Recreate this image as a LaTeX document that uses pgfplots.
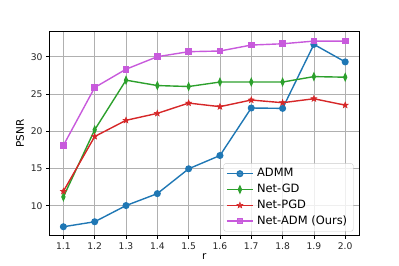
\documentclass[border=0pt]{standalone}
\usepackage{pgfplots}
\pgfplotsset{compat=1.18}
\usepackage{fontspec}
\setmainfont{DejaVu Sans}
\usetikzlibrary{plotmarks}
\definecolor{cblue}{HTML}{1F77B4}
\definecolor{cgreen}{HTML}{2CA02C}
\definecolor{cred}{HTML}{D62728}
\definecolor{cpurp}{RGB}{200,90,220}
\definecolor{cgrid}{HTML}{B0B0B0}
\pgfdeclareplotmark{fstar}{%
 \pgfpathmoveto{\pgfpointpolar{90}{\pgfplotmarksize}}%
 \pgfpathlineto{\pgfpointpolar{126}{0.42\pgfplotmarksize}}%
 \pgfpathlineto{\pgfpointpolar{162}{\pgfplotmarksize}}%
 \pgfpathlineto{\pgfpointpolar{198}{0.42\pgfplotmarksize}}%
 \pgfpathlineto{\pgfpointpolar{234}{\pgfplotmarksize}}%
 \pgfpathlineto{\pgfpointpolar{270}{0.42\pgfplotmarksize}}%
 \pgfpathlineto{\pgfpointpolar{306}{\pgfplotmarksize}}%
 \pgfpathlineto{\pgfpointpolar{342}{0.42\pgfplotmarksize}}%
 \pgfpathlineto{\pgfpointpolar{18}{\pgfplotmarksize}}%
 \pgfpathlineto{\pgfpointpolar{54}{0.42\pgfplotmarksize}}%
 \pgfpathclose\pgfusepathqfillstroke}
\begin{document}
\begin{tikzpicture}
\path[use as bounding box] (-49.3bp,-30bp) rectangle (349.7bp,235.7bp);
\begin{axis}[
  at={(0,0)}, anchor=south west,
  scale only axis, width=310bp, height=204bp,
  xmin=1.055, xmax=2.045, ymin=6.0, ymax=33.35,
  xtick={1.1,1.2,...,2.0},
  xticklabels={1.1,1.2,1.3,1.4,1.5,1.6,1.7,1.8,1.9,2.0},
  ytick={10,15,20,25,30},
  grid=major,
  major grid style={draw=cgrid, line width=0.75bp},
  axis line style={line width=0.75bp},
  tick style={black, line width=0.75bp},
  tick align=outside, major tick length=3.2bp,
  xtick pos=bottom, ytick pos=left,
  /pgf/number format/assume math mode=true,
  tick label style={font=\fontsize{9.2}{11}\selectfont, text=black!85},
  xlabel={r}, ylabel={PSNR},
  label style={font=\fontsize{10.5}{12}\selectfont},
  xlabel style={yshift=3bp},
  ylabel style={yshift=0bp},
  legend style={at={(0.981,0.021)}, anchor=south east, draw=black!20,
    rounded corners=2pt, fill=white, fill opacity=0.8, text opacity=1,
    font=\fontsize{11.5}{13}\selectfont, row sep=0.6bp, inner sep=2.5bp,
    nodes={text height=8.6bp, text depth=2.6bp, inner ysep=2bp, inner xsep=3.5bp}},
  legend cell align=left,
  legend image code/.code={\draw[mark repeat=2,mark phase=2] plot coordinates {(0bp,0bp)(13bp,0bp)(26bp,0bp)};},
  every axis plot/.append style={line width=1.4bp},
]
\addplot[color=cblue, mark=*, mark size=2.8bp, mark options={solid}] coordinates {
(1.1,7.2)(1.2,7.87)(1.3,10.04)(1.4,11.64)(1.5,14.97)(1.6,16.75)(1.7,23.12)(1.8,23.07)(1.9,31.65)(2.0,29.3)};
\addlegendentry{ADMM}
\addplot[color=cgreen, mark=diamond*, mark size=3.2bp, mark options={xscale=0.6}] coordinates {
(1.1,11.2)(1.2,20.2)(1.3,26.85)(1.4,26.13)(1.5,26.0)(1.6,26.6)(1.7,26.6)(1.8,26.6)(1.9,27.33)(2.0,27.25)};
\addlegendentry{Net-GD}
\addplot[color=cred, mark=fstar, mark size=3.2bp, mark options={line width=0.5bp}] coordinates {
(1.1,11.95)(1.2,19.3)(1.3,21.47)(1.4,22.4)(1.5,23.78)(1.6,23.3)(1.7,24.19)(1.8,23.83)(1.9,24.36)(2.0,23.5)};
\addlegendentry{Net-PGD}
\addplot[color=cpurp, mark=square*, mark size=2.6bp] coordinates {
(1.1,18.1)(1.2,25.87)(1.3,28.32)(1.4,30.0)(1.5,30.67)(1.6,30.76)(1.7,31.56)(1.8,31.73)(1.9,32.09)(2.0,32.09)};
\addlegendentry{Net-ADM (Ours)}
\end{axis}
\end{tikzpicture}
\end{document}
